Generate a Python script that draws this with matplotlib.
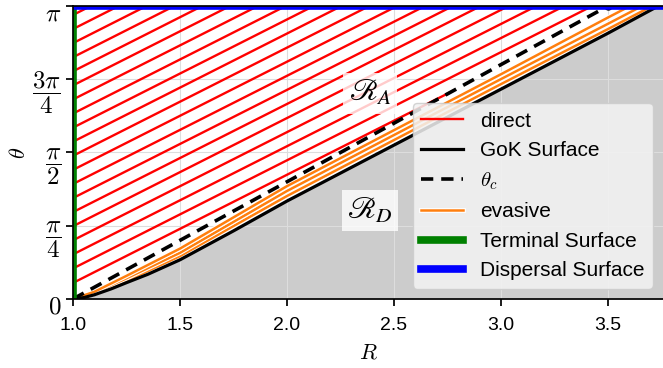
import numpy as np
import matplotlib
matplotlib.use("Agg")
import matplotlib.pyplot as plt
import matplotlib.patheffects as pe
from matplotlib.transforms import ScaledTranslation

plt.rcParams['font.family'] = ['Liberation Sans', 'DejaVu Sans']
plt.rcParams['mathtext.fontset'] = 'cm'

# ---- data ----
R_max = 3.757
gok_R = [1.0, 1.05, 1.1, 1.18, 1.25, 1.35, 1.5, 1.75, 2.0, 2.25, 2.5, 3.0, 3.5, 3.735]
gok_theta = [0.0, 0.015, 0.045, 0.11, 0.175, 0.265, 0.42, 0.73, 1.05, 1.35, 1.65, 2.25, 2.85, np.pi]

thc_R = [1.0, 3.50]
thc_theta = [0.0, np.pi]

evasive_R = [
    [1.0, 1.1, 1.25, 1.5, 2.0, 2.5, 3.0, 3.5, 3.706],
    [1.0, 1.1, 1.25, 1.5, 2.0, 2.5, 3.0, 3.5, 3.659],
    [1.0, 1.1, 1.25, 1.5, 2.0, 2.5, 3.0, 3.5, 3.603],
]
evasive_theta = [
    [0.0, 0.056, 0.195, 0.46, 1.104, 1.704, 2.304, 2.894, np.pi],
    [0.0, 0.066, 0.222, 0.495, 1.158, 1.758, 2.358, 2.951, np.pi],
    [0.0, 0.077, 0.248, 0.54, 1.21, 1.81, 2.41, 3.018, np.pi],
]

red_theta0 = [3.045, 2.894, 2.743, 2.592, 2.441, 2.290, 2.139, 1.988, 1.837, 1.686,
              1.535, 1.384, 1.233, 1.082, 0.931, 0.780, 0.629, 0.478, 0.327, 0.172]
red_slope = 1.16

yticks = [0, np.pi/4, np.pi/2, 3*np.pi/4, np.pi]
yticklabels = [r'$0$', r'$\dfrac{\pi}{4}$', r'$\dfrac{\pi}{2}$', r'$\dfrac{3\pi}{4}$', r'$\pi$']
xticks = [1.0, 1.5, 2.0, 2.5, 3.0, 3.5]

fig = plt.figure(figsize=(6.63, 3.68), dpi=100)
ax = fig.add_axes([0.110, 0.1875, 0.890, 0.7962])

# gray region below GoK
ax.fill_between(list(gok_R) + [R_max], list(gok_theta) + [np.pi], 0,
                color='#cccccc', zorder=1, lw=0)

# direct trajectories: from the terminal surface until theta = pi or theta_c
thc_slope = (thc_theta[1] - thc_theta[0]) / (thc_R[1] - thc_R[0])
for i, t0 in enumerate(red_theta0):
    r_pi = 1.0 + (np.pi - t0) / red_slope
    r_c = 1.0 + t0 / (thc_slope - red_slope)
    r_end = min(r_pi, r_c)
    rr = np.array([1.0, r_end])
    tt = t0 + red_slope * (rr - 1.0)
    ax.plot(rr, tt, color='red', lw=1.7, zorder=3,
            label='direct' if i == 0 else None)

# evasive
for i, (er, et) in enumerate(zip(evasive_R, evasive_theta)):
    ax.plot(er, et, color='#ff7f0e', lw=1.8, zorder=4,
            path_effects=[pe.Stroke(linewidth=3.4, foreground='white'), pe.Normal()],
            label='evasive' if i == 0 else None)

ax.plot(gok_R, gok_theta, color='black', lw=2.3, zorder=5, label='GoK Surface')
ax.plot(thc_R, thc_theta, color='black', lw=2.6, ls=(0, (3.4, 2.2)), zorder=5,
        label=r'$\theta_c$')
ax.plot([thc_R[1]], [thc_theta[1]], 'o', color='black', ms=5, zorder=5)

ax.plot([1.0, 1.0], [0, np.pi], color='green', lw=5.5, zorder=6, label='Terminal Surface')
ax.plot([1.0, R_max], [np.pi, np.pi], color='blue', lw=5.5, zorder=6, label='Dispersal Surface')

ax.text(2.388, 2.206, r'$\mathscr{R}_A$', fontsize=22, ha='center', va='center',
        math_fontfamily='stix', zorder=7,
        bbox=dict(facecolor='white', edgecolor='none', alpha=0.8))
ax.text(2.388, 0.947, r'$\mathscr{R}_D$', fontsize=22, ha='center', va='center',
        math_fontfamily='stix', zorder=7,
        bbox=dict(facecolor='white', edgecolor='none', alpha=0.8))

ax.set_xlim(1.0, R_max)
ax.set_ylim(0, np.pi)
ax.set_xticks(xticks)
ax.set_yticks(yticks)
ax.set_yticklabels(yticklabels, fontsize=18)
ax.tick_params(axis='x', labelsize=14, pad=8)
ax.tick_params(length=5, width=1.25)
ax.grid(True, color='#dddddd', lw=0.8, zorder=2)
ax.set_axisbelow(False)
ax.spines['right'].set_visible(False)
for s in ['left', 'bottom', 'top']:
    ax.spines[s].set_linewidth(1.25)
    ax.spines[s].set_zorder(8)
ax.set_xlabel(r'$R$', fontsize=16, labelpad=6)
ax.set_ylabel(r'$\theta$', fontsize=16, labelpad=2)

# y tick labels sit slightly below their ticks, as in the reference
shift = ScaledTranslation(0, -3.5 / 72, fig.dpi_scale_trans)
for lab in ax.get_yticklabels():
    lab.set_transform(lab.get_transform() + shift)

h, l = ax.get_legend_handles_labels()
order = ['direct', 'GoK Surface', r'$\theta_c$', 'evasive', 'Terminal Surface', 'Dispersal Surface']
hd = dict(zip(l, h))
leg = ax.legend([hd[k] for k in order], order, loc='lower right', fontsize=15,
                facecolor='#f3f3f3', framealpha=0.85)
leg.set_zorder(10)

fig.savefig('out.png', dpi=100)
